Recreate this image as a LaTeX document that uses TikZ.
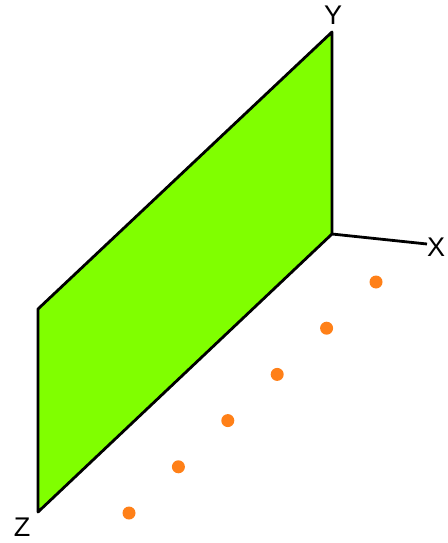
\documentclass[tikz,border=0pt]{standalone}
\usepackage{fontspec}
\setmainfont{Liberation Sans}
\usetikzlibrary{positioning, calc}
\definecolor{planegreen}{RGB}{128, 255, 0}
\definecolor{dotorange}{RGB}{255, 128, 24}
\begin{document}
\begin{tikzpicture}[x=1pt, y=-1pt, line width=2.8pt, line join=round,
    axislabel/.style={font=\fontsize{27}{27}\selectfont, inner sep=0pt},
    pointdot/.style={circle, fill=dotorange, minimum size=13pt, inner sep=0pt}]
    \useasboundingbox (0,0) rectangle (447,543);
    % Gốc và đầu các trục
    \coordinate (O) at (332,234);
    \coordinate (yend) at (332,32);
    \coordinate (xend) at (427,244);
    \coordinate (zend) at (38,512);
    \coordinate (corner) at (38,309);
    % Mặt phẳng YZ
    \filldraw[fill=planegreen] (O) -- (yend) -- (corner) -- (zend) -- cycle;
    % Trục X
    \draw (O) -- (xend);
    % Tên trục
    \node[axislabel] (ylab) at (333,15) {Y};
    \node[axislabel] (xlab) at (436,247) {X};
    \node[axislabel] (zlab) at (22,527) {Z};
    % Các điểm
    \foreach \i in {0,...,5}
        \node[pointdot] (p\i) at (376-49.4*\i, 282+46.2*\i) {};
\end{tikzpicture}
\end{document}
